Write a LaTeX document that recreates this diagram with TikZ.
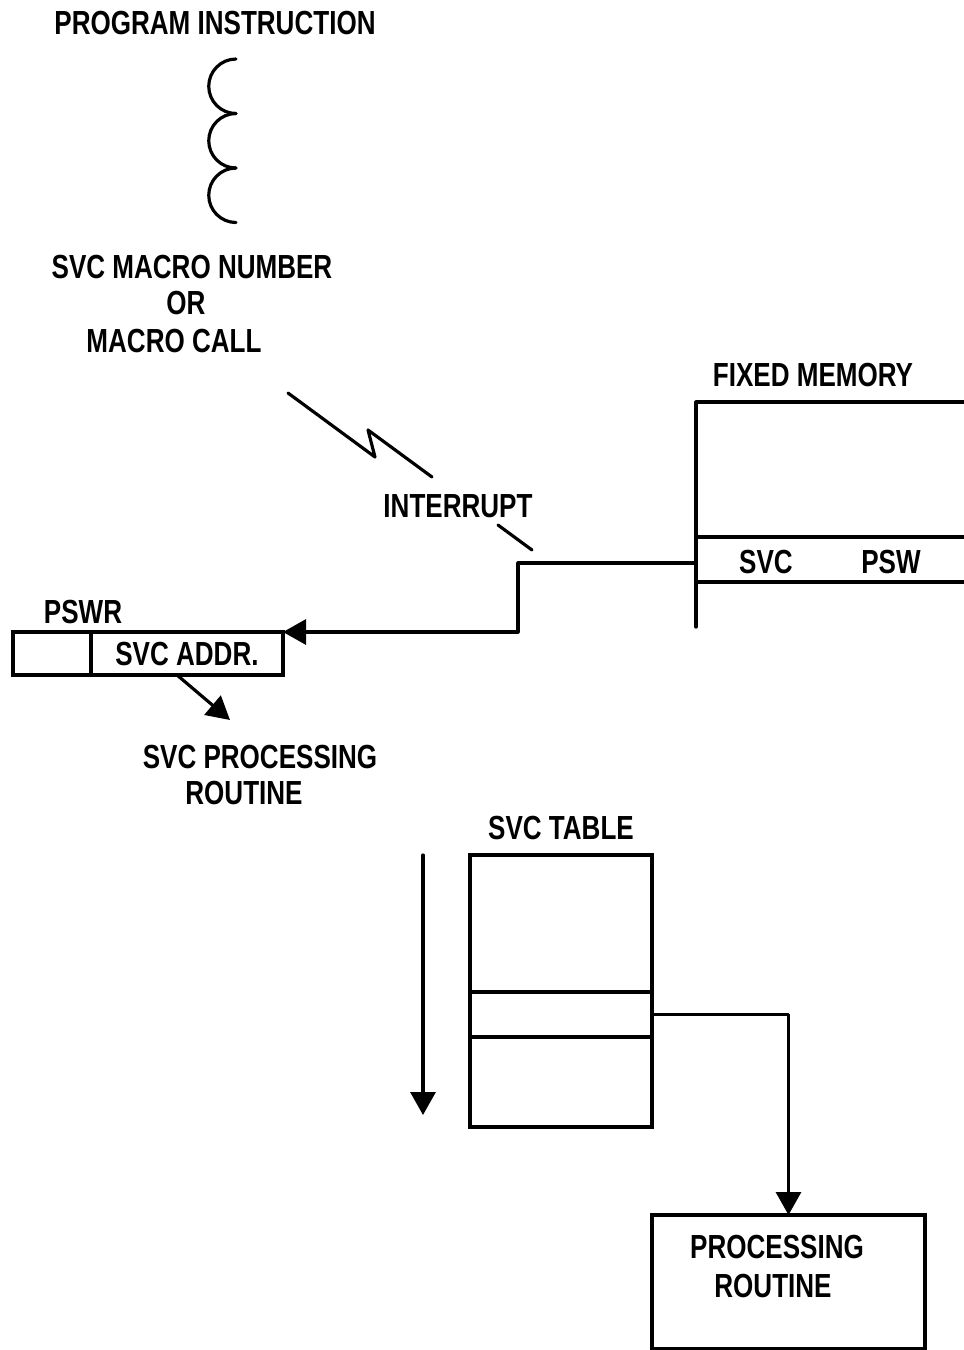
\documentclass[tikz,border=0pt]{standalone}
\usepackage{fontspec}
\setmainfont{Liberation Sans}[FakeStretch=0.78]
\usetikzlibrary{arrows.meta}
\begin{document}
\begin{tikzpicture}[
			line width=0.9pt,
			tratto/.style={line width=0.9pt, line cap=round,
				line join=round, black},
			freccia/.style={tratto, -{Triangle[length=2.3mm,width=2.5mm]}},
			testo/.style={inner sep=0pt, font=\fontsize{9.5}{11}\selectfont\bfseries},
			cella/.style={draw=black, line width=0.9pt, inner sep=0pt, outer sep=0pt,
				anchor=north west, font=\fontsize{9.5}{11}\selectfont\bfseries}]
			\useasboundingbox (0,0) rectangle (9.64,-13.50);
			\def\R{0.2725}
			
			%% istruzione di programma
			\node[testo] (progr) at (2.15,-0.23) {PROGRAM INSTRUCTION};
			\foreach \k in {0,1,2}
				\draw[tratto] (2.36,{-0.59-2*\R*\k}) arc (90:270:\R);
			\node[testo] (svcA) at (1.92,-2.67) {SVC MACRO NUMBER};
			\node[testo] (svcB) at (1.86,-3.03) {OR};
			\node[testo] (svcC) at (1.74,-3.41) {MACRO CALL};
			
			%% fulmine: interrupt
			\draw[tratto] (2.88,-3.93) -- (3.75,-4.57) -- (3.68,-4.30) -- (4.32,-4.77);
			\node[testo] (intr) at (4.58,-5.06) {INTERRUPT};
			\draw[tratto] (4.98,-5.25) -- (5.32,-5.50);
			
			%% memoria fissa
			\node[testo] (mfTit) at (8.13,-3.75) {FIXED MEMORY};
			\draw[tratto] (9.64,-4.02) -- (6.96,-4.02) -- (6.96,-6.27);
			\draw[tratto] (6.96,-5.37) -- (9.64,-5.37);
			\draw[tratto] (6.96,-5.82) -- (9.64,-5.82);
			\node[testo] (mfSvc) at (7.66,-5.62) {SVC};
			\node[testo] (mfPsw) at (8.91,-5.62) {PSW};
			\coordinate (mfNodo) at (6.96,-5.63);
			
			%% registro PSWR
			\node[testo] (pswrTit) at (0.83,-6.12) {PSWR};
			\node[cella, minimum width=0.78cm, minimum height=0.43cm] (pswrA) at (0.13,-6.32) {};
			\node[cella, minimum width=1.92cm, minimum height=0.43cm] (pswrB) at (pswrA.north east) {SVC ADDR.};
			\draw[freccia] (mfNodo) -- (5.18,-5.63) |- (pswrB.north east);
			
			%% routine di elaborazione SVC
			\coordinate (puntaD) at (2.30,-7.20);
			\draw[freccia] ([xshift=-1mm]pswrB.south) -- (puntaD);
			\node[testo] (elabA) at (2.60,-7.57) {SVC PROCESSING};
			\node[testo] (elabB) at (2.44,-7.93) {ROUTINE};
			
			%% tabella SVC
			\node[testo] (tabTit) at (5.61,-8.28) {SVC TABLE};
			\node[cella, minimum width=1.82cm, minimum height=1.37cm] (tabA) at (4.70,-8.55) {};
			\node[cella, minimum width=1.82cm, minimum height=0.45cm] (tabB) at (tabA.south west) {};
			\node[cella, minimum width=1.82cm, minimum height=0.90cm] (tabC) at (tabB.south west) {};
			\coordinate (scanA) at (4.23,-8.55);
			\coordinate (scanB) at (4.23,-11.15);
			\draw[freccia] (scanA) -- (scanB);
			
			%% routine di elaborazione
			\node[cella, minimum width=2.73cm, minimum height=1.34cm] (proc) at (6.52,-12.15) {};
			\node[testo] (procA) at (7.77,-12.47) {PROCESSING};
			\node[testo] (procB) at (7.73,-12.86) {ROUTINE};
			\draw[freccia] (tabB.east) -| (proc.north);
		\end{tikzpicture}
\end{document}
